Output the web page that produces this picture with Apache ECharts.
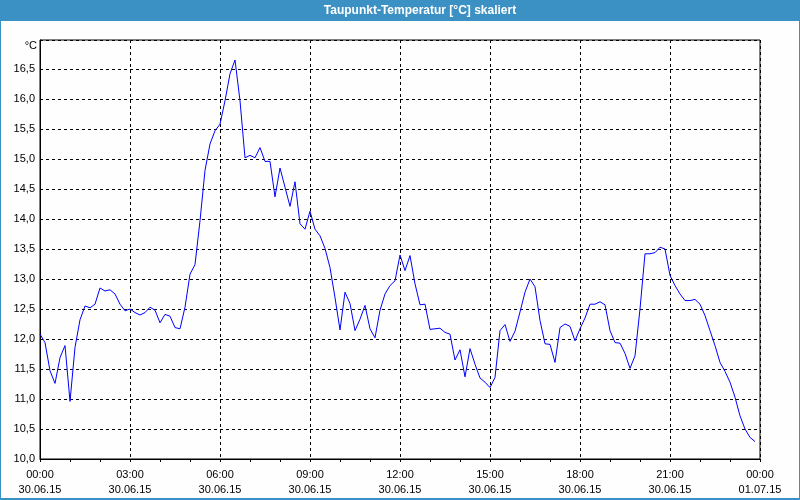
<!DOCTYPE html>
<html>
<head>
<meta charset="utf-8">
<script src="https://cdn.jsdelivr.net/npm/echarts@6/dist/echarts.min.js"></script>
<style>
html,body{margin:0;padding:0;background:#fff;}
#chart{width:800px;height:500px;}
</style>
</head>
<body>
<div id="chart"></div>
<script>
// Dew point readings, one every 10 minutes, 30.06.15 00:00 .. 23:50
var stepMinutes = 10;
var dewpoint = [
  12.08, 11.94, 11.47, 11.26, 11.69, 11.89, 10.96, 11.86, 12.32, 12.55, 12.52, 12.58,
  12.85, 12.80, 12.82, 12.75, 12.58, 12.47, 12.50, 12.44, 12.40, 12.44, 12.53, 12.48,
  12.27, 12.41, 12.38, 12.19, 12.17, 12.53, 13.08, 13.24, 13.97, 14.81, 15.25, 15.47,
  15.58, 15.97, 16.42, 16.65, 15.97, 15.02, 15.06, 15.02, 15.19, 14.96, 14.96, 14.37,
  14.85, 14.53, 14.21, 14.62, 13.92, 13.83, 14.13, 13.83, 13.72, 13.51, 13.19, 12.69,
  12.15, 12.78, 12.59, 12.14, 12.33, 12.56, 12.17, 12.02, 12.48, 12.75, 12.89, 12.97,
  13.40, 13.14, 13.39, 12.92, 12.57, 12.58, 12.16, 12.17, 12.18, 12.11, 12.08, 11.65,
  11.82, 11.37, 11.84, 11.58, 11.35, 11.28, 11.19, 11.36, 12.14, 12.24, 11.96, 12.13,
  12.45, 12.78, 13.00, 12.87, 12.31, 11.92, 11.91, 11.61, 12.19, 12.25, 12.21, 11.97,
  12.17, 12.35, 12.58, 12.58, 12.62, 12.57, 12.14, 11.94, 11.93, 11.76, 11.51, 11.72,
  12.50, 13.42, 13.42, 13.44, 13.53, 13.50, 13.06, 12.89, 12.75, 12.64, 12.64, 12.66,
  12.58, 12.39, 12.14, 11.89, 11.61, 11.46, 11.28, 11.03, 10.72, 10.50, 10.36, 10.29
];
var xTickTimes = ['00:00','03:00','06:00','09:00','12:00','15:00','18:00','21:00','00:00'];
var xTickDates = ['30.06.15','30.06.15','30.06.15','30.06.15','30.06.15','30.06.15','30.06.15','30.06.15','01.07.15'];
var titleText = 'Taupunkt-Temperatur [°C] skaliert';
var unitText = '°C';

var seriesData = dewpoint.map(function (v, i) { return [i * stepMinutes, v]; });

var FONT = '"Liberation Sans", Arial, sans-serif';
var FRAME = '#3c91c4';

var chart = echarts.init(document.getElementById('chart'), null, {renderer: 'canvas'});
chart.setOption({
  animation: false,
  backgroundColor: '#fdfefd',
  textStyle: {fontFamily: FONT},
  grid: {
    left: 40, right: 40, top: 40, bottom: 41,
    show: true, borderColor: '#000', borderWidth: 1, backgroundColor: 'transparent'
  },
  xAxis: {
    type: 'value',
    min: 0, max: 1440, interval: 180,
    axisLine: {show: true, lineStyle: {color: '#000', width: 1}},
    axisTick: {show: true, length: 3, lineStyle: {color: '#000'}},
    minorTick: {show: true, splitNumber: 3, length: 3, lineStyle: {color: '#000'}},
    splitLine: {show: true, lineStyle: {color: '#000', type: [3, 3], width: 1}},
    axisLabel: {
      margin: 8,
      color: '#000',
      fontSize: 11,
      fontFamily: FONT,
      lineHeight: 15,
      formatter: function (v) {
        var k = Math.round(v / 180);
        return xTickTimes[k] + '\n' + xTickDates[k];
      }
    }
  },
  yAxis: {
    type: 'value',
    min: 10, max: 16.983, interval: 0.5,
    axisLine: {show: true, lineStyle: {color: '#000', width: 1}},
    axisTick: {show: false},
    splitLine: {show: true, lineStyle: {color: '#000', type: [3, 3], width: 1}},
    axisLabel: {
      margin: 5,
      color: '#000',
      fontSize: 11,
      fontFamily: FONT,
      showMaxLabel: false,
      formatter: function (v) {
        var r = Math.round(v * 2) / 2;
        if (Math.abs(r - v) > 1e-6) return '';
        return r.toFixed(1).replace('.', ',');
      }
    }
  },
  series: [{
    type: 'line',
    data: seriesData,
    showSymbol: false,
    symbol: 'none',
    smooth: false,
    lineStyle: {color: '#0000ff', width: 1},
    itemStyle: {color: '#0000ff'},
    z: 5
  }],
  graphic: [
    {type: 'rect', shape: {x: 0, y: 0, width: 800, height: 21}, style: {fill: FRAME}, silent: true},
    {type: 'rect', shape: {x: 0, y: 0, width: 1, height: 500}, style: {fill: FRAME}, silent: true},
    {type: 'rect', shape: {x: 799, y: 0, width: 1, height: 500}, style: {fill: FRAME}, silent: true},
    {type: 'rect', shape: {x: 0, y: 498, width: 800, height: 2}, style: {fill: FRAME}, silent: true},
    {type: 'text', x: 420, y: 11, style: {
      text: titleText, fill: '#fff', font: 'bold 12px ' + FONT,
      textAlign: 'center', textVerticalAlign: 'middle'
    }, silent: true},
    {type: 'text', x: 37, y: 46, style: {
      text: unitText, fill: '#000', font: '11px ' + FONT,
      textAlign: 'right', textVerticalAlign: 'middle'
    }, silent: true}
  ]
});
</script>
</body>
</html>
